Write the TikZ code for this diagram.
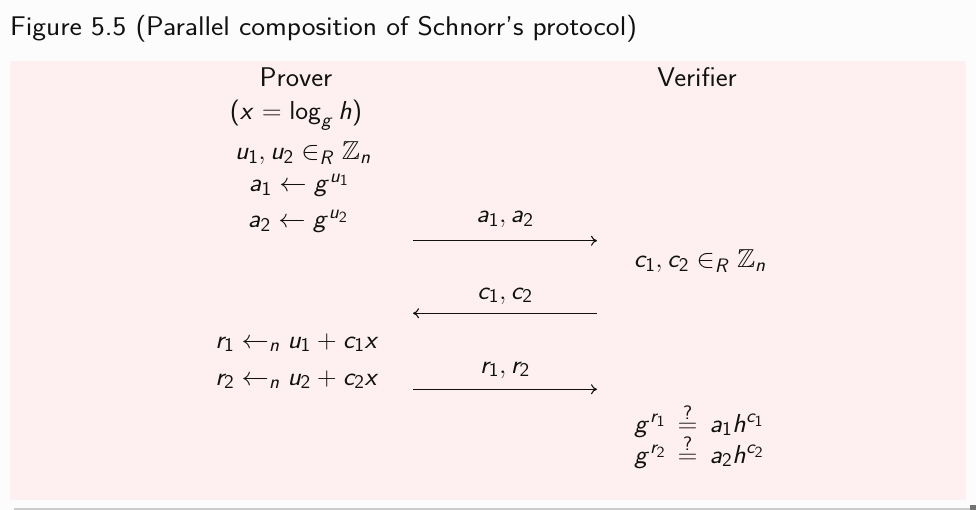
\RequirePackage{fix-cm}
\documentclass[tikz,border=0pt]{standalone}
\usepackage{amssymb}
\usetikzlibrary{arrows.meta}
\DeclareSymbolFont{sfl}{OT1}{cmss}{m}{sl}
\SetSymbolFont{operators}{normal}{OT1}{cmss}{m}{n}
\def\sfletter#1{\DeclareMathSymbol{#1}{\mathalpha}{sfl}{`#1}}
\sfletter a \sfletter c \sfletter g \sfletter h \sfletter n \sfletter r \sfletter u \sfletter x \sfletter R
\DeclareMathSizes{27}{26}{19.5}{15.5}
\newcommand{\qeq}{\mathrel{\,\stackrel{\smash{\raisebox{-1.5pt}{$\scriptstyle ?$}}}{=}\,}}
\definecolor{pagebg}{RGB}{252,252,253}
\definecolor{boxbg}{RGB}{254,240,240}
\definecolor{ink}{RGB}{17,17,17}
\tikzset{
  txt/.style={anchor=base, inner sep=0pt, xscale=1.05, text=ink, font=\fontsize{27}{32}\selectfont\sffamily},
  ttl/.style={anchor=base west, inner sep=0pt, xscale=1.085, text=ink, font=\fontsize{27}{32}\selectfont\sffamily},
  msg/.style={draw=ink, line width=1.1pt, -{Computer Modern Rightarrow[length=6pt,width=10pt]}}
}
\begin{document}
\begin{tikzpicture}[x=1pt,y=-1pt]
\useasboundingbox (0,0) rectangle (976,510);
\fill[pagebg] (0,0) rectangle (976,510);
\fill[black!20] (14,507.5) rectangle (976,510);
\fill[black!55] (970,505) rectangle (976,510);
\fill[boxbg] (9.5,61) rectangle (966,499.5);
\node[ttl] (title) at (10,36) {Figure 5.5 (Parallel composition of Schnorr's protocol)};
% Prover column
\node[txt] (prover) at (296,87) {Prover};
\node[txt] (secret) at (296,120) {$(x=\log_g h)$};
\node[txt] (pu) at (303,160) {$u_1, u_2 \in_R \mathbb{Z}_n$};
\node[txt] (pa1) at (299,192) {$a_1 \leftarrow g^{u_1}$};
\node[txt] (pa2) at (298,228) {$a_2 \leftarrow g^{u_2}$};
\node[txt] (pr1) at (297,348) {$r_1 \leftarrow_n u_1 + c_1 x$};
\node[txt] (pr2) at (297,385) {$r_2 \leftarrow_n u_2 + c_2 x$};
% Verifier column
\node[txt] (verifier) at (697,87) {Verifier};
\node[txt] (vc) at (700,268) {$c_1, c_2 \in_R \mathbb{Z}_n$};
\node[txt] (vg1) at (699,432) {$g^{r_1} \qeq a_1 h^{c_1}$};
\node[txt] (vg2) at (699,463) {$g^{r_2} \qeq a_2 h^{c_2}$};
% messages
\node[txt] (la) at (505,223) {$a_1, a_2$};
\node[txt] (lc) at (505,299) {$c_1, c_2$};
\node[txt] (lr) at (505,373) {$r_1, r_2$};
\coordinate (m1s) at (413,240.7);
\coordinate (m1e) at (597,240.7);
\coordinate (m2s) at (597,313.3);
\coordinate (m2e) at (413,313.3);
\coordinate (m3s) at (413,389.3);
\coordinate (m3e) at (597,389.3);
\draw[msg] (m1s) -- (m1e);
\draw[msg] (m2s) -- (m2e);
\draw[msg] (m3s) -- (m3e);
\end{tikzpicture}
\end{document}
